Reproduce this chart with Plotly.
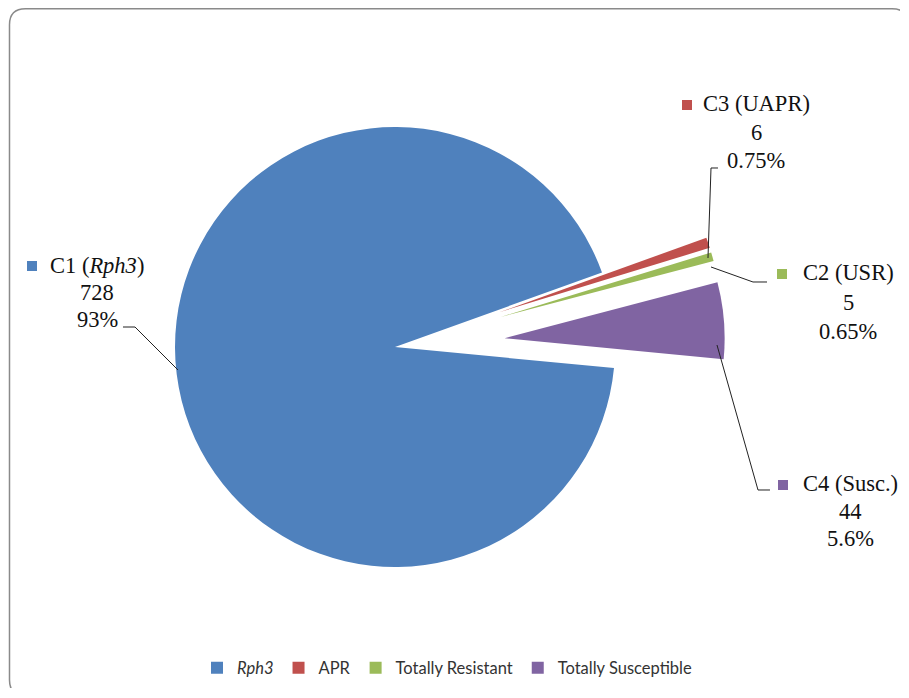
import plotly.graph_objects as go

# page coordinates in the reference are 909x698; the page body has an 8px margin
OFF = 8
FW, FH = 892, 680

# ---- data ----
categories = ["<i>Rph3</i>", "APR", "Totally Resistant", "Totally Susceptible"]
counts = [728, 6, 5, 44]
colors = ["#4F81BD", "#C0504D", "#9BBB59", "#8064A2"]
pulls = [0, 0.5, 0.5, 0.5]
label_titles = ["C1 (<i>Rph3</i>)", "C3 (UAPR)", "C2 (USR)", "C4 (Susc.)"]
label_pcts = ["93%", "0.75%", "0.65%", "5.6%"]


def X(px):
    return (px - OFF) / FW


def Y(py):
    return 1 - (py - OFF) / FH


fig = go.Figure()

# pie: radius 220px with pull 0.5 -> box min = 660px, center at (395, 347)
cx, cy, box = 395, 347, 660
fig.add_trace(go.Pie(
    labels=categories,
    values=counts,
    marker=dict(colors=colors, line=dict(width=0)),
    pull=pulls,
    sort=False,
    direction="clockwise",
    rotation=95.5,
    textinfo="none",
    hoverinfo="label+value+percent",
    domain=dict(x=[X(cx - box / 2), X(cx + box / 2)],
                y=[Y(cy + box / 2), Y(cy - box / 2)]),
))

serif = "Liberation Serif"
annotations = []
shapes = []

# label blocks: (center x, first line y, pitch, square x, index)
blocks = [
    (97, 265, 27.5, 32, 0),
    (756, 104, 28, 687, 1),
    (848, 273, 29, 782, 2),
    (850, 484, 27, 783, 3),
]
for bx, by, pitch, sqx, i in blocks:
    lines = [label_titles[i], str(counts[i]), label_pcts[i]]
    for k, t in enumerate(lines):
        annotations.append(dict(
            x=X(bx), y=Y(by + k * pitch), xref="paper", yref="paper",
            text=t, showarrow=False, xanchor="center", yanchor="middle",
            font=dict(family=serif, size=22.5, color="#111111"),
        ))
    shapes.append(dict(
        type="rect", xref="paper", yref="paper",
        x0=X(sqx - 5), x1=X(sqx + 5), y0=Y(by - 4), y1=Y(by + 6),
        fillcolor=colors[i], line=dict(width=0),
    ))


def path(points):
    return "M" + " L".join(f"{X(a):.5f},{Y(b):.5f}" for a, b in points)


leaders = [
    [(123, 327), (135, 327), (178, 370)],
    [(718, 168), (711, 168), (708, 258)],
    [(711, 267), (753, 282), (767, 282)],
    [(717, 345), (758, 490), (770, 490)],
]
for pts in leaders:
    shapes.append(dict(type="path", xref="paper", yref="paper", path=path(pts),
                       line=dict(color="#222222", width=1)))

# rounded outer border (right/bottom edges fall off-canvas)
x0b, y0b, x1b, y1b, r = 9.5, 8.8, 908, 696, 16
border = (
    f"M{X(x0b):.5f},{Y(y1b - r):.5f} L{X(x0b):.5f},{Y(y0b + r):.5f} "
    f"Q{X(x0b):.5f},{Y(y0b):.5f} {X(x0b + r):.5f},{Y(y0b):.5f} "
    f"L{X(x1b - r):.5f},{Y(y0b):.5f} "
    f"Q{X(x1b):.5f},{Y(y0b):.5f} {X(x1b):.5f},{Y(y0b + r):.5f} "
    f"L{X(x1b):.5f},{Y(y1b - r):.5f} "
    f"Q{X(x1b):.5f},{Y(y1b):.5f} {X(x1b - r):.5f},{Y(y1b):.5f} "
    f"L{X(x0b + r):.5f},{Y(y1b):.5f} "
    f"Q{X(x0b):.5f},{Y(y1b):.5f} {X(x0b):.5f},{Y(y1b - r):.5f}"
)
shapes.append(dict(type="path", xref="paper", yref="paper", path=border,
                   line=dict(color="#8a8a8a", width=1.5)))

fig.update_layout(
    width=FW, height=FH,
    margin=dict(l=0, r=0, t=0, b=0, autoexpand=False),
    paper_bgcolor="white",
    plot_bgcolor="white",
    showlegend=True,
    legend=dict(
        orientation="h", x=X(447), xanchor="center", y=Y(668), yanchor="middle",
        font=dict(family="Lato", size=16.5, color="#333333"),
        itemclick=False,
    ),
    annotations=annotations,
    shapes=shapes,
)

fig.write_html("out.html")
